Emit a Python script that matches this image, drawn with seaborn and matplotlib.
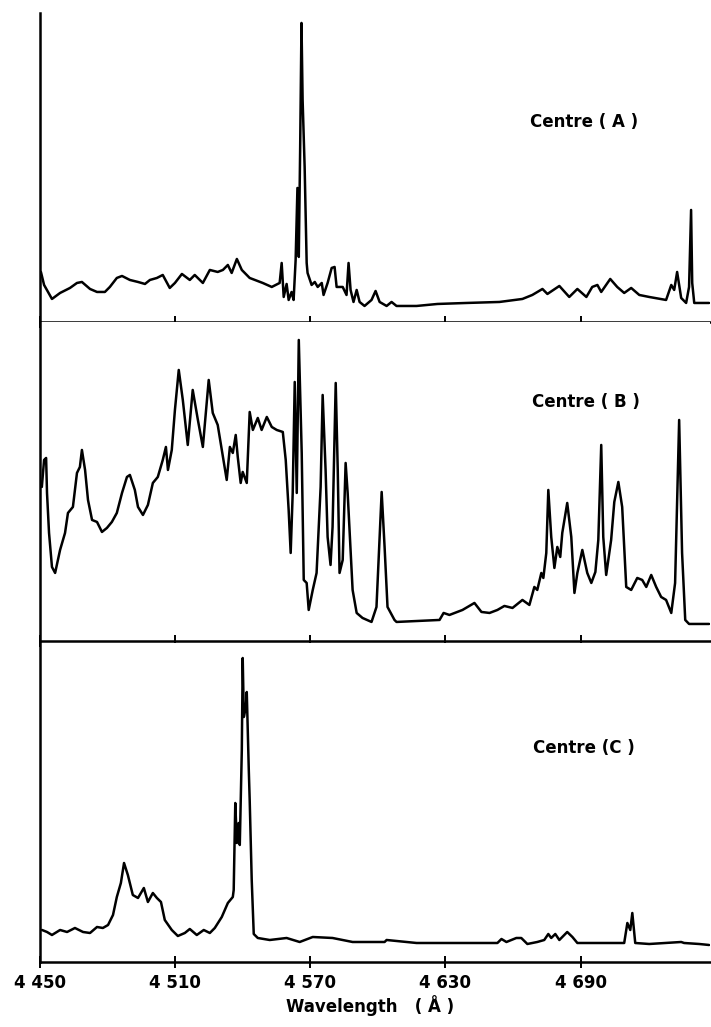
import numpy as np
import pandas as pd
import matplotlib
matplotlib.use("Agg")
import matplotlib.pyplot as plt
import seaborn as sns

# wavelength (Angstrom) and relative intensity
wl_a = [4450.4, 4451.8, 4455.3, 4458.9, 4463.3, 4466.4, 4468.6, 4472.2, 4475.3, 4478.8,
        4481.0, 4484.1, 4486.4, 4489.9, 4493.5, 4496.6, 4498.8, 4501.9, 4504.5, 4507.6,
        4509.9, 4513.0, 4516.5, 4518.7, 4522.3, 4525.4, 4528.9, 4531.2, 4533.4, 4535.1,
        4537.4, 4539.6, 4543.1, 4548.9, 4552.9, 4556.4, 4557.3, 4558.2, 4559.5, 4560.4,
        4561.7, 4562.6, 4563.5, 4564.3, 4564.9, 4565.5, 4566.1, 4566.6, 4567.5, 4568.4,
        4568.8, 4570.6, 4572.0, 4573.3, 4575.1, 4575.9, 4577.7, 4579.5, 4580.8, 4581.7,
        4584.4, 4586.1, 4587.0, 4587.9, 4589.2, 4590.6, 4591.9, 4594.1, 4597.2, 4599.0,
        4600.8, 4603.9, 4606.1, 4608.3, 4617.2, 4626.5, 4639.4, 4654.0, 4664.2, 4668.6,
        4673.1, 4675.3, 4680.6, 4685.0, 4688.6, 4692.6, 4695.2, 4697.5, 4699.2, 4703.2,
        4706.3, 4709.4, 4712.5, 4716.1, 4720.5, 4728.0, 4730.3, 4731.6, 4732.9, 4734.7,
        4736.9, 4738.2, 4739.1, 4739.6, 4740.5, 4747.1]
int_a = [50, 37, 23, 29, 34, 39, 40, 33, 30, 30,
         35, 44, 46, 42, 40, 38, 42, 44, 47, 34,
         39, 48, 42, 47, 39, 52, 50, 52, 57, 49,
         63, 52, 44, 39, 35, 39, 59, 25, 38, 22,
         30, 22, 62, 134, 65, 172, 299, 222, 155, 59,
         49, 37, 40, 35, 39, 27, 39, 54, 55, 35,
         35, 27, 59, 32, 20, 32, 20, 16, 22, 31,
         20, 16, 20, 16, 16, 18, 19, 20, 23, 27,
         33, 28, 36, 25, 33, 25, 35, 37, 30, 43,
         35, 29, 34, 27, 25, 22, 37, 32, 50, 24,
         19, 35, 112, 39, 19, 19]

wl_b = [4450.8, 4451.8, 4452.7, 4453.1, 4454.0, 4455.3, 4456.7, 4458.9, 4461.1, 4462.4,
        4464.6, 4466.4, 4467.7, 4468.6, 4470.0, 4471.3, 4473.1, 4475.3, 4477.5, 4479.7,
        4481.9, 4484.1, 4486.4, 4488.6, 4489.9, 4492.1, 4493.5, 4495.7, 4497.9, 4500.1,
        4502.3, 4504.5, 4505.9, 4506.8, 4508.5, 4509.9, 4511.6, 4513.4, 4515.6, 4517.8,
        4520.1, 4522.3, 4524.1, 4524.9, 4526.7, 4528.9, 4530.7, 4532.9, 4534.3, 4535.6,
        4536.9, 4537.8, 4539.1, 4540.0, 4541.8, 4543.1, 4544.5, 4546.7, 4548.4, 4550.7,
        4552.9, 4555.1, 4557.8, 4559.1, 4560.4, 4561.3, 4562.2, 4563.1, 4564.0, 4564.9,
        4566.2, 4567.1, 4568.4, 4569.3, 4571.1, 4572.8, 4574.6, 4575.5, 4576.8, 4577.7,
        4579.0, 4579.9, 4581.3, 4582.2, 4583.0, 4584.4, 4585.7, 4586.6, 4588.8, 4590.6,
        4593.2, 4597.2, 4599.4, 4601.7, 4603.0, 4604.3, 4607.4, 4608.3, 4627.4, 4629.2,
        4631.8, 4637.6, 4642.9, 4646.0, 4649.6, 4653.1, 4656.2, 4659.8, 4664.2, 4667.3,
        4669.5, 4670.8, 4672.6, 4673.5, 4674.8, 4675.7, 4677.0, 4678.4, 4679.7, 4681.0,
        4681.9, 4684.1, 4685.9, 4687.3, 4688.6, 4690.8, 4693.0, 4694.8, 4696.6, 4697.9,
        4699.2, 4700.1, 4701.4, 4703.6, 4705.0, 4706.8, 4708.5, 4710.3, 4712.5, 4715.2,
        4717.4, 4719.2, 4721.4, 4723.6, 4725.8, 4728.0, 4730.3, 4732.0, 4733.8, 4735.1,
        4736.5, 4738.2, 4747.1]
int_b = [154, 181, 183, 148, 108, 74, 68, 91, 108, 128,
         134, 168, 174, 191, 171, 141, 121, 119, 109, 113,
         119, 128, 148, 164, 166, 151, 134, 126, 136, 158,
         164, 181, 194, 171, 191, 231, 271, 241, 196, 251,
         221, 194, 241, 261, 228, 216, 191, 161, 194, 188,
         206, 184, 158, 169, 158, 229, 211, 223, 211, 224,
         214, 211, 209, 181, 131, 88, 148, 259, 148, 301,
         188, 61, 58, 31, 51, 68, 154, 246, 171, 104,
         76, 114, 258, 171, 68, 81, 178, 148, 51, 28,
         23, 19, 34, 149, 94, 34, 21, 19, 21, 28,
         26, 31, 38, 29, 28, 31, 35, 33, 41, 36,
         54, 51, 68, 63, 88, 151, 104, 73, 94, 84,
         108, 138, 104, 48, 68, 91, 68, 58, 69, 101,
         196, 104, 66, 101, 139, 159, 134, 54, 51, 63,
         61, 54, 66, 54, 44, 41, 28, 58, 221, 88,
         21, 17, 17]

wl_c = [4450.9, 4453.1, 4455.3, 4458.9, 4462.0, 4465.5, 4469.1, 4472.2, 4475.3, 4477.9,
        4480.2, 4482.4, 4484.1, 4485.9, 4487.3, 4489.0, 4491.2, 4493.5, 4496.1, 4497.9,
        4500.1, 4501.9, 4503.7, 4505.4, 4508.5, 4511.2, 4514.3, 4516.5, 4519.6, 4522.7,
        4525.4, 4527.6, 4530.7, 4533.4, 4535.6, 4536.0, 4536.7, 4537.4, 4538.2, 4538.7,
        4539.6, 4540.0, 4540.5, 4541.4, 4541.8, 4542.7, 4543.1, 4544.0, 4544.9, 4546.7,
        4552.0, 4559.5, 4565.3, 4571.1, 4579.9, 4588.8, 4603.0, 4603.9, 4617.2, 4646.5,
        4653.1, 4654.9, 4657.1, 4661.5, 4663.7, 4666.4, 4670.8, 4673.9, 4675.7, 4677.0,
        4678.8, 4680.6, 4684.1, 4686.4, 4688.6, 4697.0, 4709.4, 4710.8, 4712.1, 4713.0,
        4714.3, 4720.5, 4734.7, 4736.0, 4742.7, 4747.1]
int_c = [32, 30, 27, 32, 30, 34, 30, 29, 35, 34,
         37, 47, 65, 79, 99, 87, 67, 64, 74, 60,
         69, 64, 60, 42, 32, 26, 29, 33, 27, 32,
         29, 34, 45, 59, 65, 72, 159, 119, 139, 117,
         212, 304, 245, 255, 270, 192, 162, 82, 28, 24,
         22, 24, 20, 25, 24, 20, 20, 22, 19, 19,
         19, 23, 20, 24, 24, 18, 20, 22, 28, 24,
         28, 22, 30, 25, 19, 19, 19, 39, 32, 49,
         19, 18, 20, 19, 18, 17]

panel_labels = ["Centre ( A )", "Centre ( B )", "Centre (C )"]
tick_values = [4450, 4510, 4570, 4630, 4690]
tick_labels = ["4 450", "4 510", "4 570", "4 630", "4 690"]

sns.set_theme(style="ticks")
plt.rcParams['font.family'] = ['DejaVu Sans']
plt.rcParams['text.color'] = 'black'
plt.rcParams['xtick.color'] = 'black'
plt.rcParams['xtick.labelcolor'] = 'black'

fig = plt.figure(figsize=(7.11, 10.27), dpi=100)
# axes boxes: left, bottom, width, height (figure fraction)
boxes = [(0.0563, 0.6865, 0.9423, 0.3009),
         (0.0563, 0.3759, 0.9423, 0.3106),
         (0.0563, 0.0633, 0.9423, 0.3106)]
label_pos = [(0.7454, 0.8812), (0.7482, 0.6086), (0.7496, 0.2717)]
ylims = [309, 319, 319]
series = [(wl_a, int_a), (wl_b, int_b), (wl_c, int_c)]

for i, (box, (wl, inten)) in enumerate(zip(boxes, series)):
    ax = fig.add_axes(box)
    df = pd.DataFrame({'wl': wl, 'I': inten})
    sns.lineplot(data=df, x='wl', y='I', ax=ax, color='black', lw=1.8,
                 sort=False, estimator=None)
    ax.set_xlim(4450, 4747.5)
    ax.set_ylim(0, ylims[i])
    ax.set_facecolor('white')
    for s in ['top', 'right']:
        ax.spines[s].set_visible(False)
    for s in ['left', 'bottom']:
        ax.spines[s].set_linewidth(1.8)
        ax.spines[s].set_color('black')
    ax.set_yticks([])
    ax.set_xticks(tick_values)
    ax.tick_params(axis='x', direction='inout', length=9, width=1.4,
                   colors='black', pad=4)
    if i == 2:
        ax.set_xticklabels(tick_labels, fontsize=12, fontweight='bold',
                           color='black')
    else:
        ax.set_xticklabels([])
    ax.set_xlabel('')
    ax.set_ylabel('')
    fig.text(label_pos[i][0], label_pos[i][1], panel_labels[i], ha='left',
             va='center', fontsize=12, fontweight='bold', color='black')

fig.text(0.520, 0.0214, 'Wavelength   ( Å )', ha='center', va='center',
         fontsize=12, fontweight='bold', color='black')

fig.savefig('out.png', dpi=100, facecolor='white')
